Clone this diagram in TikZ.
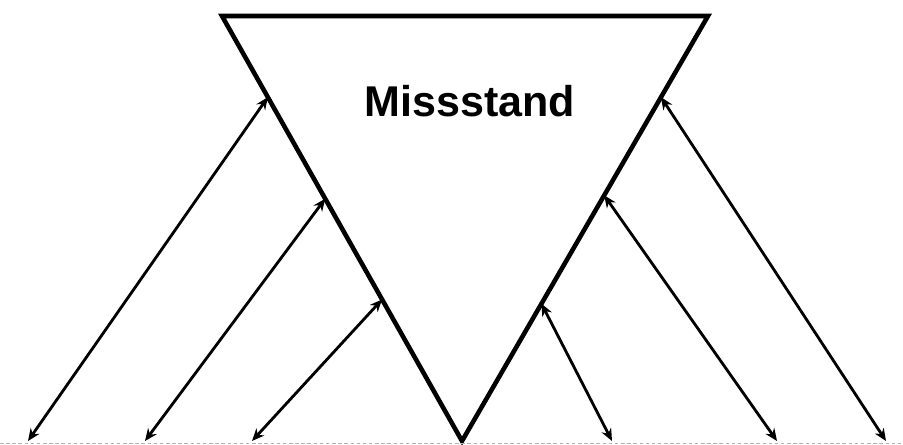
\documentclass[tikz,border=0pt]{standalone}
\usepackage{fontspec}
\setmainfont{Liberation Sans}
\usetikzlibrary{arrows.meta, calc}

\begin{document}
\begin{tikzpicture}[x=0.02cm, y=-0.02cm, >={Stealth[length=7pt,width=6pt]},
  tri/.style={line width=2.6pt, line join=miter},
  link/.style={<->, line width=1.6pt},
  ground/.style={gray!60, line width=0.5pt, dash pattern=on 2pt off 1.5pt}]

\useasboundingbox (0,0) rectangle (903,445);

% Triangle
\coordinate (tl) at (222,16);
\coordinate (tr) at (708,16);
\coordinate (apex) at (462,441);
\draw[tri] (tl) -- (tr) -- (apex) -- cycle;

\node[font=\bfseries\fontsize{24.5}{28}\selectfont] (miss) at (470,101) {Missstand};

% Ground line
\coordinate (g0) at (0,443);
\coordinate (g1) at (903,443);
\draw[ground] (g0) -- (g1);

% Points on the edges
\coordinate (l1) at ($(tl)!0.191!(apex)$);
\coordinate (l2) at ($(tl)!0.43!(apex)$);
\coordinate (l3) at ($(tl)!0.667!(apex)$);
\coordinate (r1) at ($(tr)!0.191!(apex)$);
\coordinate (r2) at ($(tr)!0.422!(apex)$);
\coordinate (r3) at ($(tr)!0.677!(apex)$);

% Points on the ground
\coordinate (b1) at (28,441);
\coordinate (b2) at (145,441);
\coordinate (b3) at (252,441);
\coordinate (b4) at (612,441);
\coordinate (b5) at (777,441);
\coordinate (b6) at (886,441);

% Arrows
\draw[link] (b1) -- (l1);
\draw[link] (b2) -- (l2);
\draw[link] (b3) -- (l3);
\draw[link] (b4) -- (r3);
\draw[link] (b5) -- (r2);
\draw[link] (b6) -- (r1);

\end{tikzpicture}
\end{document}
